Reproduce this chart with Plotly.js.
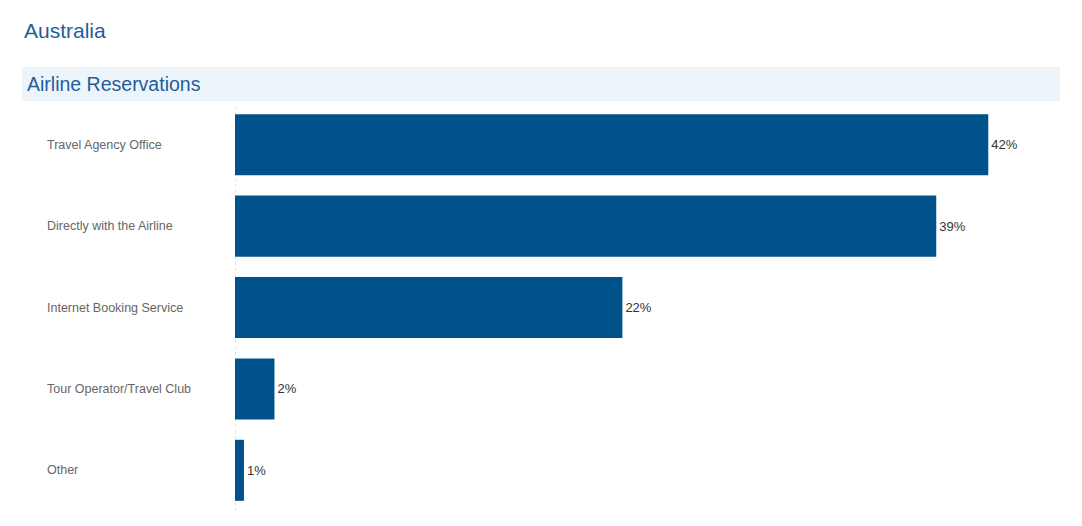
<!DOCTYPE html>
<html>
<head>
<meta charset="utf-8">
<script src="https://cdn.plot.ly/plotly-3.0.1.min.js"></script>
<style>
html,body{margin:0;padding:0;background:#fff;}
#chart{width:1082px;height:526px;}
</style>
</head>
<body>
<div id="chart"></div>
<script>
const categories = ["Travel Agency Office", "Directly with the Airline", "Internet Booking Service", "Tour Operator/Travel Club", "Other"];
const values = [42.0, 39.1, 21.6, 2.2, 0.5];
const valueLabels = ["42%", "39%", "22%", "2%", "1%"];
const pageTitle = "Australia";
const sectionTitle = "Airline Reservations";

const FONT = "Liberation Sans, Arial, sans-serif";
const BLUE = "#00528b";
const PLOT_W = 825, PLOT_H = 407, PLOT_L = 235, PLOT_B = 511;

const trace = {
  type: "bar",
  orientation: "h",
  y: categories,
  x: values,
  text: valueLabels,
  texttemplate: "%{text}",
  textposition: "outside",
  cliponaxis: false,
  textfont: {family: FONT, size: 13, color: "#333333"},
  marker: {color: BLUE, line: {width: 0}},
  hoverinfo: "none"
};

const annotations = categories.map(c => ({
  xref: "paper", yref: "y", x: (45 - PLOT_L) / PLOT_W, y: c,
  xanchor: "left", yanchor: "middle",
  text: c, showarrow: false,
  font: {family: FONT, size: 12.5, color: "#666666"}
}));

annotations.push({
  xref: "paper", yref: "paper", x: (25 - PLOT_L) / PLOT_W, y: (PLOT_B - 84) / PLOT_H,
  xanchor: "left", yanchor: "middle",
  text: sectionTitle, showarrow: false,
  font: {family: FONT, size: 19.5, color: "#1f5e9b"}
});

const layout = {
  width: 1082, height: 526,
  margin: {l: 235, r: 22, t: 104, b: 15, pad: 0},
  paper_bgcolor: "#ffffff",
  plot_bgcolor: "#ffffff",
  title: {text: pageTitle, x: 24/1082, xanchor: "left", y: 1 - 31/526, yanchor: "middle",
          font: {family: FONT, size: 21, color: "#1f5e9b"}},
  showlegend: false,
  bargap: 0.25,
  xaxis: {range: [0, 46], showgrid: false, zeroline: false, showticklabels: false, ticks: "", showline: false, fixedrange: true},
  yaxis: {autorange: "reversed", showgrid: false, zeroline: false, showticklabels: false, ticks: "", showline: false, fixedrange: true},
  shapes: [
    {type: "rect", xref: "paper", yref: "paper", x0: (22 - PLOT_L) / PLOT_W, x1: 1.0,
     y0: (PLOT_B - 101) / PLOT_H, y1: (PLOT_B - 67) / PLOT_H,
     fillcolor: "#eef5fa", line: {width: 0}, layer: "below"},
    {type: "line", xref: "x", yref: "paper", x0: 0, x1: 0, y0: 0, y1: 1,
     line: {color: "#c8c8c8", width: 1, dash: "dot"}, layer: "below"}
  ],
  annotations: annotations
};

Plotly.newPlot("chart", [trace], layout, {displayModeBar: false, staticPlot: true});
</script>
</body>
</html>
